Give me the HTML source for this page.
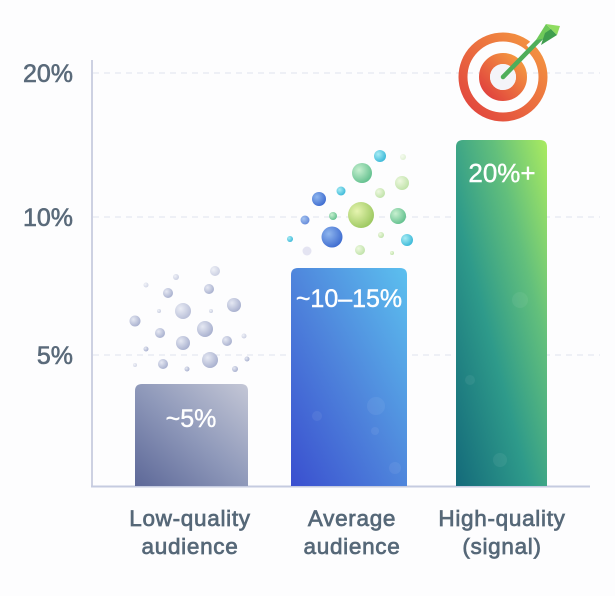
<!DOCTYPE html>
<html><head><meta charset="utf-8"><style>
html,body{margin:0;padding:0;background:#fdfdfe;}
svg{display:block;}
text{font-family:"Liberation Sans",sans-serif;}
</style></head><body>
<svg width="615" height="596" viewBox="0 0 615 596" xmlns="http://www.w3.org/2000/svg">
<defs>
<linearGradient id="g1" x1="0" y1="1" x2="1" y2="0">
<stop offset="0" stop-color="#5d6898"/><stop offset="0.5" stop-color="#8f99ba"/><stop offset="1" stop-color="#c4c7d6"/>
</linearGradient>
<linearGradient id="g2" x1="0" y1="1" x2="1" y2="0">
<stop offset="0" stop-color="#3a4fcf"/><stop offset="0.5" stop-color="#4f86dc"/><stop offset="1" stop-color="#5cc0ef"/>
</linearGradient>
<linearGradient id="g3" x1="0" y1="1" x2="1" y2="0">
<stop offset="0" stop-color="#146a7a"/><stop offset="0.4" stop-color="#2e9a8a"/><stop offset="0.7" stop-color="#62bf7c"/><stop offset="1" stop-color="#aaeb60"/>
</linearGradient>
<linearGradient id="tg" x1="0" y1="1" x2="1" y2="0">
<stop offset="0" stop-color="#e0403e"/><stop offset="1" stop-color="#f59a40"/>
</linearGradient>
<radialGradient id="bg" cx="0.35" cy="0.35" r="0.7">
<stop offset="0" stop-color="#e6e9f3"/><stop offset="1" stop-color="#a7afce"/>
</radialGradient>
<radialGradient id="bb" cx="0.35" cy="0.35" r="0.7">
<stop offset="0" stop-color="#8fb6ee"/><stop offset="1" stop-color="#3e6cd0"/>
</radialGradient>
<radialGradient id="bc" cx="0.35" cy="0.35" r="0.7">
<stop offset="0" stop-color="#a8ecf4"/><stop offset="1" stop-color="#3ab8d8"/>
</radialGradient>
<radialGradient id="bgr" cx="0.35" cy="0.35" r="0.7">
<stop offset="0" stop-color="#c8f0d0"/><stop offset="1" stop-color="#62c08e"/>
</radialGradient>
<radialGradient id="by" cx="0.35" cy="0.35" r="0.7">
<stop offset="0" stop-color="#e6f4b0"/><stop offset="1" stop-color="#9cc860"/>
</radialGradient>
<radialGradient id="bp" cx="0.35" cy="0.35" r="0.7">
<stop offset="0" stop-color="#eef8e0"/><stop offset="1" stop-color="#bfe2a8"/>
</radialGradient>
</defs>

<!-- grid -->
<g stroke="#dfe2ee" stroke-width="1" stroke-dasharray="6 5">
<line x1="93" y1="73" x2="600" y2="73"/>
<line x1="93" y1="217" x2="600" y2="217"/>
<line x1="93" y1="355" x2="600" y2="355"/>
</g>
<!-- axes -->
<line x1="92" y1="60" x2="92" y2="487" stroke="#cdd1e2" stroke-width="2"/>
<line x1="91" y1="486.5" x2="590" y2="486.5" stroke="#c5cbe0" stroke-width="2"/>

<!-- y labels -->
<g fill="#5a6a7a" font-size="25" text-anchor="end" stroke="#5a6a7a" stroke-width="0.6">
<text x="73" y="82">20%</text>
<text x="73" y="226">10%</text>
<text x="73" y="364">5%</text>
</g>

<!-- bars -->
<path d="M135 486 V391 Q135 384 142 384 H241 Q248 384 248 391 V486 Z" fill="url(#g1)"/>
<path d="M291 486 V275 Q291 268 298 268 H400 Q407 268 407 275 V486 Z" fill="url(#g2)"/>
<path d="M456 486 V147 Q456 140 463 140 H540 Q547 140 547 147 V486 Z" fill="url(#g3)"/>

<!-- subtle bokeh in bars -->
<g fill="#ffffff" opacity="0.06">
<circle cx="376" cy="406" r="9"/><circle cx="375" cy="431" r="4"/><circle cx="317" cy="416" r="5"/><circle cx="395" cy="468" r="6"/>
<circle cx="500" cy="460" r="7"/><circle cx="520" cy="300" r="8"/><circle cx="470" cy="380" r="5"/>
</g>

<!-- bar labels -->
<g fill="#ffffff" font-size="25" text-anchor="middle" stroke="#ffffff" stroke-width="0.4">
<text x="191" y="427">~5%</text>
<text x="349" y="307">~10–15%</text>
<text x="502" y="182" font-size="26">20%+</text>
</g>

<!-- category labels -->
<g fill="#566878" font-size="22.5" text-anchor="middle" stroke="#566878" stroke-width="0.7" letter-spacing="0.7">
<text x="190" y="526">Low-quality</text>
<text x="190" y="554">audience</text>
<text x="352" y="526">Average</text>
<text x="352" y="554">audience</text>
<text x="502" y="526">High-quality</text>
<text x="502" y="554">(signal)</text>
</g>

<!-- low-quality bubbles -->
<g fill="url(#bg)">
<circle cx="215" cy="271" r="5" opacity="0.6"/>
<circle cx="176" cy="277" r="3" opacity="0.6"/>
<circle cx="146" cy="285" r="2.5" opacity="0.5"/>
<circle cx="168" cy="293" r="5"/>
<circle cx="209" cy="289" r="5"/>
<circle cx="234" cy="305" r="7"/>
<circle cx="183" cy="311" r="8" opacity="0.8"/>
<circle cx="159" cy="311" r="2" opacity="0.6"/>
<circle cx="211" cy="311" r="2" opacity="0.6"/>
<circle cx="135" cy="321" r="5.5"/>
<circle cx="205" cy="329" r="8"/>
<circle cx="160" cy="333" r="5"/>
<circle cx="183" cy="343" r="7"/>
<circle cx="227" cy="341" r="5"/>
<circle cx="244" cy="336" r="2.5" opacity="0.6"/>
<circle cx="146" cy="349" r="2.5"/>
<circle cx="210" cy="360" r="8"/>
<circle cx="163" cy="364" r="5"/>
<circle cx="187" cy="369" r="2.5"/>
<circle cx="235" cy="369" r="3"/>
<circle cx="247" cy="359" r="2.5"/>
<circle cx="135" cy="365" r="2" opacity="0.5"/>
</g>

<!-- average bubbles -->
<circle cx="380" cy="156" r="6" fill="url(#bc)"/>
<circle cx="403" cy="157" r="3" fill="url(#bp)" opacity="0.5"/>
<circle cx="362" cy="173" r="10" fill="url(#bgr)"/>
<circle cx="402" cy="183" r="7" fill="url(#bp)"/>
<circle cx="341" cy="191" r="4.5" fill="url(#bc)"/>
<circle cx="380" cy="193" r="5" fill="url(#bp)"/>
<circle cx="319" cy="199" r="7" fill="url(#bb)"/>
<circle cx="361" cy="215" r="13" fill="url(#by)"/>
<circle cx="333" cy="216" r="4" fill="url(#bgr)"/>
<circle cx="398" cy="216" r="8" fill="url(#bgr)"/>
<circle cx="305" cy="220" r="4.5" fill="url(#bb)" opacity="0.8"/>
<circle cx="332" cy="237" r="10.5" fill="url(#bb)"/>
<circle cx="290" cy="239" r="3" fill="url(#bc)"/>
<circle cx="381" cy="235" r="3" fill="url(#bp)"/>
<circle cx="407" cy="240" r="6" fill="url(#bc)"/>
<circle cx="307" cy="251" r="4.5" fill="#e4e4f2"/>
<circle cx="360" cy="250" r="5" fill="url(#bp)"/>
<circle cx="392" cy="253" r="2" fill="url(#bp)"/>

<!-- target -->
<g>
<circle cx="503" cy="77" r="40" fill="none" stroke="url(#tg)" stroke-width="9"/>
<circle cx="503" cy="77" r="18.5" fill="none" stroke="url(#tg)" stroke-width="11"/>
<circle cx="503" cy="77" r="13" fill="#f4f4f8"/>
<path d="M528 47 L536 40" stroke="#fdfdfe" stroke-width="5"/>
<line x1="503" y1="77" x2="543" y2="36" stroke="#4fae5a" stroke-width="4.5" stroke-linecap="round"/>
<path d="M536 40 L546 24 L552 30 L548 38 Z" fill="#6fc95a"/>
<path d="M541 45 L557 35 L551 29 L545 33 Z" fill="#3f9e4e"/>
<path d="M546 24 L560 26 L557 35 L551 29 Z" fill="#8fdc60"/>
</g>
</svg>
</body></html>
